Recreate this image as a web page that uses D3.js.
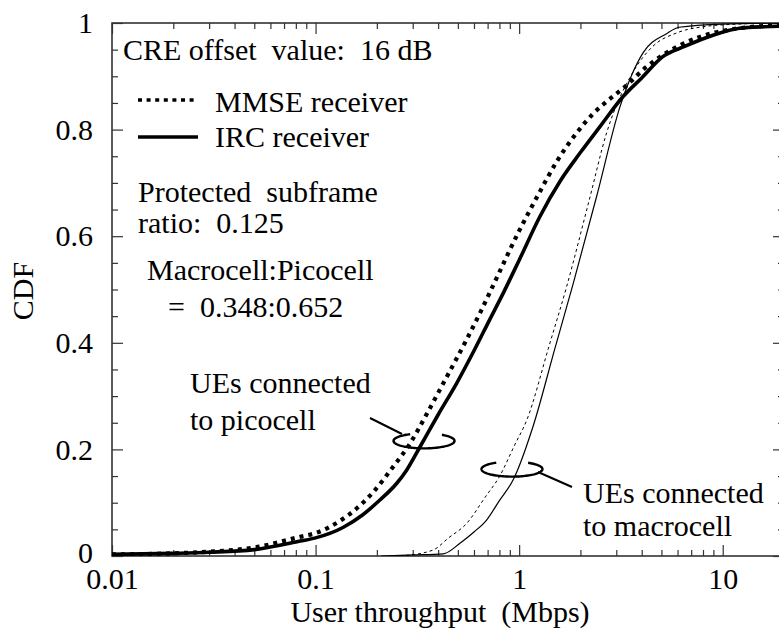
<!DOCTYPE html>
<html>
<head>
<meta charset="utf-8">
<script src="https://cdn.jsdelivr.net/npm/d3@7"></script>
<style>
    body { margin: 0; background: #fff; }
    #cdf-area { width: 779px; height: 635px; overflow: hidden; }
    text { font-family: "Liberation Serif", "Times New Roman", serif; font-size: 30px; fill: #000; white-space: pre; }
</style>
</head>
<body>
<div id="cdf-area"></div>
<script>

// axis ticks
const xTickValues = [0.01, 0.1, 1, 10];
const xTickLabels = ["0.01", "0.1", "1", "10"];
const xMinorTicks = [0.02, 0.03, 0.04, 0.05, 0.06, 0.07, 0.08, 0.09,
    0.2, 0.3, 0.4, 0.5, 0.6, 0.7, 0.8, 0.9,
    2, 3, 4, 5, 6, 7, 8, 9];
const yTickValues = [0, 0.2, 0.4, 0.6, 0.8, 1];
const yTickLabels = ["0", "0.2", "0.4", "0.6", "0.8", "1"];
const yMinorTicks = [0.05, 0.1, 0.15, 0.25, 0.3, 0.35, 0.45, 0.5, 0.55,
    0.65, 0.7, 0.75, 0.85, 0.9, 0.95];

// UEs connected to picocell, MMSE receiver
const picoMmseX = [0.01, 0.02, 0.03, 0.05, 0.084, 0.1, 0.132, 0.16, 0.192, 0.24, 0.291, 0.35, 0.424,
    0.55, 0.65, 0.75, 1.0, 1.25, 1.53, 1.9, 2.31, 2.8, 3.35, 4.2, 5.08, 6.3, 7.73, 12, 20];
const picoMmseY = [0.003, 0.005, 0.008, 0.016, 0.036, 0.043, 0.066, 0.09, 0.12, 0.167, 0.211, 0.265, 0.324,
    0.405, 0.46, 0.51, 0.61, 0.68, 0.74, 0.792, 0.83, 0.858, 0.882, 0.917, 0.94, 0.96, 0.974, 0.99, 0.996];

// UEs connected to picocell, IRC receiver
const picoIrcX = [0.01, 0.02, 0.03, 0.05, 0.084, 0.1, 0.137, 0.17, 0.207, 0.25, 0.28, 0.326, 0.4,
    0.493, 0.6, 0.72, 0.82, 1.0, 1.265, 1.6, 1.99, 2.5, 3.24, 4.0, 5.08, 6.5, 8.95, 12.1, 16, 20];
const picoIrcY = [0.003, 0.005, 0.007, 0.012, 0.028, 0.034, 0.054, 0.077, 0.105, 0.136, 0.161, 0.205, 0.265,
    0.324, 0.385, 0.445, 0.487, 0.555, 0.637, 0.705, 0.756, 0.806, 0.862, 0.897, 0.937, 0.956, 0.977, 0.99, 0.993, 0.994];

// UEs connected to macrocell, MMSE receiver
const macroMmseX = [0.26, 0.377, 0.45, 0.552, 0.68, 0.8, 0.95, 1.09, 1.4, 1.71, 2.2, 2.69, 3.6, 4.5, 6, 8, 12, 20];
const macroMmseY = [0.0, 0.011, 0.034, 0.061, 0.11, 0.149, 0.208, 0.255, 0.393, 0.505, 0.665, 0.794, 0.906, 0.955,
    0.982, 0.993, 0.998, 1.0];

// UEs connected to macrocell, IRC receiver
const macroIrcX = [0.21, 0.3, 0.424, 0.512, 0.6, 0.692, 0.8, 0.935, 1.17, 1.5, 1.84, 2.4, 3.13, 4.06, 5.3, 6.1, 10, 20];
const macroIrcY = [0.0, 0.002, 0.004, 0.024, 0.045, 0.0675, 0.104, 0.143, 0.243, 0.39, 0.51, 0.674, 0.843, 0.944,
    0.98, 0.992, 0.998, 1.0];

class CdfPlot {

    constructor(parentElement) {
        this.parentElement = parentElement;
        this.series = [
            {x: macroMmseX, y: macroMmseY, width: 1, dash: "3,3"},
            {x: macroIrcX, y: macroIrcY, width: 1.2, dash: null},
            {x: picoIrcX, y: picoIrcY, width: 3.6, dash: null},
            {x: picoMmseX, y: picoMmseY, width: 4.2, dash: "4,5"}
        ];

        this.initVis();
    }

    initVis() {
        let vis = this;
        vis.margin = {top: 23, right: -5, bottom: 79, left: 112};
        vis.width = 779 - vis.margin.left - vis.margin.right;
        vis.height = 635 - vis.margin.top - vis.margin.bottom;

        vis.svg = d3.select("#" + vis.parentElement).append("svg")
            .attr("width", 779)
            .attr("height", 635)
            .append("g")
            .attr("transform", `translate(${vis.margin.left}, ${vis.margin.top})`);

        vis.xScale = d3.scaleLog()
            .domain([0.01, 20])
            .range([0, vis.width]);

        vis.yScale = d3.scaleLinear()
            .domain([0, 1])
            .range([vis.height, 0]);

        vis.svg.append("defs").append("clipPath")
            .attr("id", "plot-clip")
            .append("rect")
            .attr("width", vis.width)
            .attr("height", vis.height);

        vis.drawAxes();
        vis.updateVis();
    }

    drawAxes() {
        let vis = this;

        // minor ticks, all four sides
        vis.svg.append("g").attr("class", "axis")
            .attr("transform", `translate(0, ${vis.height})`)
            .call(d3.axisBottom(vis.xScale).tickValues(xMinorTicks).tickSize(-6).tickFormat(""));
        vis.svg.append("g").attr("class", "axis")
            .call(d3.axisTop(vis.xScale).tickValues(xMinorTicks).tickSize(-6).tickFormat(""));
        vis.svg.append("g").attr("class", "axis")
            .call(d3.axisLeft(vis.yScale).tickValues(yMinorTicks).tickSize(-6).tickFormat(""));
        vis.svg.append("g").attr("class", "axis")
            .attr("transform", `translate(${vis.width}, 0)`)
            .call(d3.axisRight(vis.yScale).tickValues(yMinorTicks).tickSize(-6).tickFormat(""));

        // major ticks with labels
        vis.svg.append("g").attr("class", "axis x-axis")
            .attr("transform", `translate(0, ${vis.height})`)
            .call(d3.axisBottom(vis.xScale).tickValues(xTickValues).tickSize(-11).tickPadding(12)
                .tickFormat((d, i) => xTickLabels[i]));
        vis.svg.append("g").attr("class", "axis")
            .call(d3.axisTop(vis.xScale).tickValues(xTickValues).tickSize(-11).tickFormat(""));
        vis.svg.append("g").attr("class", "axis y-axis")
            .call(d3.axisLeft(vis.yScale).tickValues(yTickValues).tickSize(-11).tickPadding(19)
                .tickFormat((d, i) => yTickLabels[i]));
        vis.svg.append("g").attr("class", "axis")
            .attr("transform", `translate(${vis.width}, 0)`)
            .call(d3.axisRight(vis.yScale).tickValues(yTickValues).tickSize(-11).tickFormat(""));

        vis.svg.selectAll(".axis .domain").remove();
        vis.svg.selectAll(".axis line").attr("stroke", "#333").attr("stroke-width", 1.2);
        vis.svg.selectAll(".axis text")
            .attr("font-family", null)
            .attr("font-size", null);
        // lift the "0" label a little off the x labels
        vis.svg.selectAll(".y-axis .tick text").filter(d => d === 0).attr("dy", "0.22em");

        vis.svg.append("rect")
            .attr("width", vis.width)
            .attr("height", vis.height)
            .attr("fill", "none")
            .attr("stroke", "#333")
            .attr("stroke-width", 1.6);

        // axis titles
        vis.svg.append("text")
            .text("User throughput  (Mbps)")
            .attr("transform", `translate(${440 - vis.margin.left}, ${622 - vis.margin.top})`)
            .attr("text-anchor", "middle");

        vis.svg.append("text")
            .text("CDF")
            .attr("transform", `translate(${33 - vis.margin.left}, ${291 - vis.margin.top})rotate(-90)`)
            .attr("text-anchor", "middle");
    }

    updateVis() {
        let vis = this;

        let line = d3.line()
            .x(d => vis.xScale(d[0]))
            .y(d => vis.yScale(d[1]))
            .curve(d3.curveMonotoneX);

        vis.svg.append("g")
            .attr("clip-path", "url(#plot-clip)")
            .selectAll(".cdf-line")
            .data(vis.series)
            .enter()
            .append("path")
            .attr("class", "cdf-line")
            .attr("d", s => line(s.x.map((x, i) => [x, s.y[i]])))
            .attr("fill", "none")
            .attr("stroke", "#000")
            .attr("stroke-width", s => s.width)
            .attr("stroke-dasharray", s => s.dash)
            .attr("stroke-linejoin", "round");

        // legend and notes (image coordinates, shifted into the plot group)
        let note = vis.svg.append("g")
            .attr("transform", `translate(${-vis.margin.left}, ${-vis.margin.top})`);

        let texts = [
            ["CRE offset  value:  16 dB", 123, 60],
            ["MMSE receiver", 215, 112],
            ["IRC receiver", 215, 147],
            ["Protected  subframe", 138, 202],
            ["ratio:  0.125", 138, 233],
            ["Macrocell:Picocell", 147, 280],
            ["=  0.348:0.652", 168, 317],
            ["UEs connected", 190, 393],
            ["to picocell", 190, 430],
            ["UEs connected", 583, 503],
            ["to macrocell", 583, 536]
        ];
        note.selectAll(".note")
            .data(texts)
            .enter()
            .append("text")
            .attr("class", "note")
            .attr("x", d => d[1])
            .attr("y", d => d[2])
            .text(d => d[0]);

        note.append("line")
            .attr("x1", 138).attr("x2", 198).attr("y1", 100).attr("y2", 100)
            .attr("stroke", "#000").attr("stroke-width", 3.5).attr("stroke-dasharray", "4,4.6");
        note.append("line")
            .attr("x1", 138).attr("x2", 198).attr("y1", 137).attr("y2", 137)
            .attr("stroke", "#000").attr("stroke-width", 3.6);

        // leader lines
        note.append("line")
            .attr("x1", 370).attr("y1", 418).attr("x2", 402).attr("y2", 434)
            .attr("stroke", "#000").attr("stroke-width", 2);
        note.append("line")
            .attr("x1", 538).attr("y1", 472).attr("x2", 572).attr("y2", 487)
            .attr("stroke", "#000").attr("stroke-width", 2);

        // open ellipses around the curve groups
        let rings = [
            {x: 0.341, y: 0.216, rx: 30.5, ry: 7.5, from: -54, to: 243},
            {x: 0.922, y: 0.163, rx: 30.5, ry: 7.5, from: -58, to: 240}
        ];
        vis.svg.selectAll(".ring")
            .data(rings)
            .enter()
            .append("path")
            .attr("class", "ring")
            .attr("d", r => {
                let cx = vis.xScale(r.x), cy = vis.yScale(r.y);
                let pts = d3.range(r.from, r.to + 1, 3).map(a => {
                    let t = a * Math.PI / 180;
                    return [cx + r.rx * Math.cos(t), cy + r.ry * Math.sin(t)];
                });
                return d3.line()(pts);
            })
            .attr("fill", "none")
            .attr("stroke", "#000")
            .attr("stroke-width", 2.4);
    }
}

let cdfPlot = new CdfPlot("cdf-area");
</script>
</body>
</html>
